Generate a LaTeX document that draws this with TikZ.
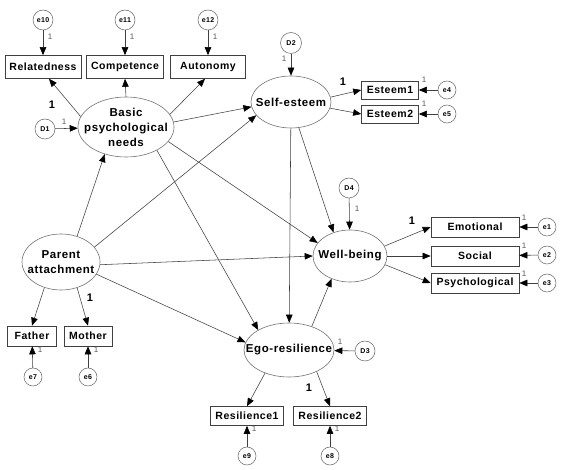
\documentclass[tikz,border=0pt]{standalone}
\usepackage{fontspec}
\setmainfont{Liberation Sans}[LetterSpace=5]
\usetikzlibrary{shapes.geometric,arrows.meta}
\tikzset{
 lat/.style={ellipse, draw=black!55, line width=0.6pt, inner sep=0pt},
 obs/.style={rectangle, draw=black!75, line width=0.6pt, inner sep=0pt, font=\bfseries\fontsize{10.5}{12}\selectfont},
 err/.style={circle, draw=black!60, line width=0.5pt, inner sep=0pt, font=\bfseries\fontsize{7}{8}\selectfont},
 pth/.style={draw=black!75, line width=0.55pt, -{Triangle[length=8pt,width=6.5pt,color=black]}},
 one/.style={font=\fontsize{8}{9}\selectfont, text=black!65, inner sep=0pt},
 bone/.style={font=\bfseries\fontsize{11}{12}\selectfont, inner sep=0pt},
 ltxt/.style={font=\bfseries\fontsize{11.5}{15}\selectfont, align=center, inner sep=0pt},
}
\begin{document}
\begin{tikzpicture}[x=1pt,y=-1pt]
\useasboundingbox[fill=white] (0,0) rectangle (563,470);
% latent variables
\node[lat, minimum width=96pt, minimum height=60pt] (basic) at (126,127) {};
\node[ltxt] (basict) at (basic) {Basic\\psychological\\needs};
\node[lat, minimum width=80pt, minimum height=52pt] (self) at (291,102) {};
\node[ltxt] (selft) at (self) {Self-esteem};
\node[lat, minimum width=78pt, minimum height=56pt] (parent) at (61,262) {};
\node[ltxt] (parentt) at (parent) {Parent\\attachment};
\node[lat, minimum width=74pt, minimum height=52pt] (wb) at (350,256) {};
\node[ltxt] (wbt) at (wb) {Well-being};
\node[lat, minimum width=90pt, minimum height=54pt] (ego) at (289,350) {};
\node[ltxt] (egot) at (ego) {Ego-resilience};
% observed variables
\node[obs, minimum width=76pt, minimum height=23pt] (rel) at (43,67) {Relatedness};
\node[obs, minimum width=77pt, minimum height=23pt] (comp) at (125,67) {Competence};
\node[obs, minimum width=75pt, minimum height=23pt] (auto) at (208,67) {Autonomy};
\node[obs, minimum width=57pt, minimum height=18pt] (es1) at (390,90) {Esteem1};
\node[obs, minimum width=57pt, minimum height=18pt] (es2) at (390,114) {Esteem2};
\node[obs, minimum width=88pt, minimum height=20pt] (emo) at (475,227) {Emotional};
\node[obs, minimum width=88pt, minimum height=20pt] (soc) at (475,256) {Social};
\node[obs, minimum width=88pt, minimum height=20pt] (psy) at (475,283) {Psychological};
\node[obs, minimum width=49pt, minimum height=20pt] (father) at (32,336) {Father};
\node[obs, minimum width=48pt, minimum height=20pt] (mother) at (88,336) {Mother};
\node[obs, minimum width=73pt, minimum height=19pt] (res1) at (247,416) {Resilience1};
\node[obs, minimum width=73pt, minimum height=19pt] (res2) at (330,416) {Resilience2};
% errors / disturbances
\node[err, minimum size=20pt] (e10) at (43,20) {e10};
\node[err, minimum size=20pt] (e11) at (125,20) {e11};
\node[err, minimum size=20pt] (e12) at (208,20) {e12};
\node[err, minimum size=20pt] (d1) at (45,129) {D1};
\node[err, minimum size=21pt] (d2) at (291,43) {D2};
\node[err, minimum size=18pt] (e4) at (447,90) {e4};
\node[err, minimum size=18pt] (e5) at (447,114) {e5};
\node[err, minimum size=20pt] (d4) at (349,188) {D4};
\node[err, minimum size=18pt] (e1) at (547,227) {e1};
\node[err, minimum size=18pt] (e2) at (547,255) {e2};
\node[err, minimum size=18pt] (e3) at (547,283) {e3};
\node[err, minimum size=20pt] (d3) at (365,351) {D3};
\node[err, minimum size=18pt] (e9) at (247,456) {e9};
\node[err, minimum size=18pt] (e8) at (330,456) {e8};
\node[err, minimum size=18pt] (e7) at (33,377) {e7};
\node[err, minimum size=18pt] (e6) at (88,377) {e6};
% structural paths
\draw[pth] (basic.167) -- ([xshift=6pt]rel.south);
\draw[pth] (basic.90) -- (comp.south);
\draw[pth] (basic.16) -- ([xshift=-3pt]auto.south);
\draw[pth] (basic.6) -- (self.-173);
\draw[pth] (basic.-19) -- (wb.158);
\draw[pth] (basic.-37) -- (ego.147);
\draw[pth] (parent.58) -- (basic.-128);
\draw[pth] (parent.24) -- (self.-159);
\draw[pth] (parent.-4) -- (wb.180);
\draw[pth] (parent.-19) -- (ego.170);
\draw[pth] (parent.-123) -- (father.north);
\draw[pth] (parent.-58) -- (mother.north);
\draw[pth] (self.-73) -- (wb.125);
\draw[pth] (self) -- (ego);
\draw[pth] (self.7) -- (es1.west);
\draw[pth] (self.-9) -- (es2.west);
\draw[pth] (ego.46) -- (wb.-129);
\draw[pth] (ego.-136) -- (res1.north);
\draw[pth] (ego.-38) -- (res2.north);
\draw[pth] (wb.16) -- (emo.west);
\draw[pth] (wb.0) -- (soc.west);
\draw[pth] (wb.-14) -- (psy.west);
% error paths
\draw[pth] (e10) -- (rel);
\draw[pth] (e11) -- (comp);
\draw[pth] (e12) -- (auto);
\draw[pth] (d1) -- (basic);
\draw[pth] (d2) -- (self);
\draw[pth] (d3) -- (ego);
\draw[pth] (d4) -- (wb);
\draw[pth] (e4) -- (es1);
\draw[pth] (e5) -- (es2);
\draw[pth] (e1) -- (emo);
\draw[pth] (e2) -- (soc);
\draw[pth] (e3) -- (psy);
\draw[pth] (e9) -- (res1);
\draw[pth] (e8) -- (res2);
\draw[pth] (e7) -- (father);
\draw[pth] (e6) -- (mother);
% small 1 labels
\node[one] (l10) at (50,37) {1};
\node[one] (l11) at (132,37) {1};
\node[one] (l12) at (215,37) {1};
\node[one] (ld1) at (64,122) {1};
\node[one] (ld2) at (284,59) {1};
\node[one] (l4) at (424,80) {1};
\node[one] (l5) at (424,104) {1};
\node[one] (ld4) at (357,209) {1};
\node[one] (l1) at (524,218) {1};
\node[one] (l2) at (524,246) {1};
\node[one] (l3) at (524,274) {1};
\node[one] (ld3) at (340,342) {1};
\node[one] (l9) at (254,429) {1};
\node[one] (l8) at (337,429) {1};
\node[one] (l7) at (40,350) {1};
\node[one] (l6) at (96,350) {1};
% bold 1 labels
\node[bone] (b1) at (52,105) {1};
\node[bone] (b2) at (343,82) {1};
\node[bone] (b3) at (412,221) {1};
\node[bone] (b4) at (309,388) {1};
\node[bone] (b5) at (90,298) {1};
\end{tikzpicture}
\end{document}
